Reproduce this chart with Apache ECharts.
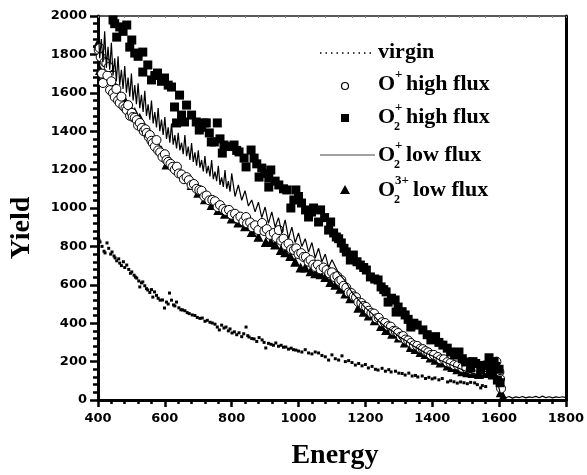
<!DOCTYPE html>
<html>
<head>
<meta charset="utf-8">
<script src="https://cdn.jsdelivr.net/npm/echarts@6/dist/echarts.min.js"></script>
<style>
  html, body { margin: 0; padding: 0; background: #fff; }
  #chart { width: 587px; height: 475px; }
</style>
</head>
<body>
<div id="chart"></div>
<script>
// energy / yield pairs
const virgin = [
  [400,840],[403,833],[406,823],[412,800],[418,775],[421,766],[427,818],[432,790],[438,760],[442,771],
  [448,750],[451,740],[456,725],[462,735],[465,713],[470,700],[476,720],[480,690],[486,703],[492,680],
  [497,660],[501,667],[508,650],[512,640],[516,635],[522,620],[525,589],[530,610],[534,615],[540,595],
  [545,580],[549,573],[555,560],[560,575],[564,536],[569,563],[575,545],[580,530],[586,520],[593,521],
  [599,479],[605,510],[610,500],[614,557],[620,520],[626,495],[630,490],[635,510],[642,480],[648,470],
  [653,469],[660,465],[667,455],[673,450],[682,443],[690,440],[697,430],[705,425],[712,427],[720,410],
  [727,415],[735,405],[742,401],[750,395],[757,380],[763,365],[770,390],[777,375],[783,380],[790,360],
  [795,370],[801,349],[808,355],[815,340],[822,350],[830,330],[836,345],[843,380],[848,335],[852,328],
  [860,320],[867,318],[875,305],[882,325],[891,313],[897,300],[902,271],[910,295],[918,290],[925,285],
  [932,297],[940,280],[948,285],[955,275],[962,276],[970,265],[978,270],[985,262],[992,260],[1000,255],
  [1010,250],[1020,262],[1030,245],[1040,240],[1050,250],[1060,245],[1070,232],[1080,225],[1090,208],[1100,235],
  [1110,215],[1120,208],[1130,230],[1140,200],[1150,205],[1160,195],[1170,182],[1180,190],[1190,178],[1200,185],
  [1209,167],[1220,175],[1230,160],[1238,156],[1250,165],[1260,150],[1270,158],[1277,146],[1290,150],[1300,140],
  [1310,138],[1319,130],[1330,140],[1340,125],[1350,128],[1357,120],[1370,125],[1380,112],[1390,118],[1400,110],
  [1408,115],[1420,105],[1430,112],[1446,94],[1455,100],[1465,95],[1475,88],[1485,94],[1495,90],[1505,85],
  [1515,92],[1527,89],[1535,80],[1545,63],[1550,75],[1560,70]
];

const oHigh = [
  [402,1823],[405,1833],[408,1786],[412,1700],[415,1651],[420,1760],[425,1755],[428,1690],[432,1734],[436,1614],
  [440,1660],[445,1599],[450,1578],[455,1620],[460,1560],[465,1547],[470,1580],[476,1530],[482,1520],[486,1510],
  [490,1536],[496,1480],[501,1495],[504,1474],[510,1470],[516,1458],[520,1430],[525,1443],[531,1417],[537,1400],
  [542,1410],[546,1391],[552,1370],[555,1380],[560,1350],[564,1338],[570,1320],[575,1354],[580,1300],[586,1290],
  [593,1266],[600,1280],[605,1250],[610,1240],[617,1230],[623,1214],[630,1200],[636,1215],[642,1180],[650,1175],
  [657,1150],[665,1161],[672,1145],[680,1120],[687,1125],[695,1100],[703,1094],[710,1090],[718,1060],[725,1065],
  [733,1040],[742,1042],[750,1035],[758,1005],[765,1015],[775,995],[783,985],[792,990],[800,965],[810,970],
  [818,945],[826,955],[835,930],[843,953],[846,920],[855,925],[862,900],[870,910],[880,885],[891,922],
  [898,880],[905,890],[915,860],[926,870],[934,845],[941,885],[948,830],[955,840],[962,805],[970,815],
  [978,785],[986,781],[993,790],[1000,760],[1008,765],[1015,745],[1022,745],[1030,720],[1036,729],[1044,705],
  [1051,693],[1058,705],[1066,680],[1075,690],[1084,677],[1092,660],[1100,665],[1108,640],[1116,645],[1122,620],
  [1128,625],[1135,595],[1143,585],[1150,560],[1158,557],[1165,540],[1172,535],[1179,510],[1188,505],[1195,490],
  [1202,485],[1210,465],[1218,453],[1226,450],[1233,425],[1240,428],[1250,405],[1259,401],[1268,385],[1276,382],
  [1284,360],[1291,358],[1298,349],[1306,330],[1313,333],[1320,315],[1328,310],[1336,297],[1345,285],[1355,282],
  [1365,268],[1372,265],[1380,255],[1388,248],[1396,235],[1405,235],[1417,224],[1425,212],[1435,212],[1445,197],
  [1455,193],[1466,182],[1477,180],[1490,168],[1502,166],[1515,158],[1527,156],[1540,165],[1555,160],[1568,175],
  [1580,190],[1586,182],[1592,200],[1601,146],[1603,110],[1606,60]
];

const o2High = [
  [445,1979],[450,1960],[456,1890],[465,1943],[475,1920],[486,1953],[495,1838],[501,1875],[510,1807],[520,1790],
  [534,1812],[534,1708],[549,1745],[560,1667],[570,1690],[578,1703],[590,1660],[599,1677],[610,1640],[620,1630],
  [629,1526],[635,1443],[644,1588],[650,1484],[659,1448],[665,1536],[680,1484],[694,1448],[703,1406],[710,1420],
  [718,1443],[724,1443],[733,1391],[739,1344],[748,1344],[757,1443],[765,1360],[772,1286],[777,1328],[790,1320],
  [807,1328],[815,1300],[822,1292],[837,1260],[843,1214],[858,1302],[867,1260],[875,1230],[882,1161],[890,1208],
  [900,1180],[911,1156],[911,1109],[917,1198],[930,1140],[941,1120],[955,1100],[965,1094],[977,1000],[986,1042],
  [992,1094],[1000,1060],[1009,1026],[1021,990],[1030,953],[1039,979],[1045,1000],[1060,927],[1066,990],[1078,950],
  [1090,885],[1096,927],[1105,870],[1113,849],[1120,840],[1128,818],[1136,790],[1143,771],[1155,729],[1164,755],
  [1175,720],[1185,703],[1195,690],[1203,677],[1215,641],[1228,630],[1238,625],[1247,589],[1255,575],[1262,563],
  [1268,510],[1278,530],[1289,521],[1292,458],[1298,484],[1310,460],[1319,443],[1328,420],[1336,380],[1345,400],
  [1355,390],[1372,365],[1385,340],[1396,313],[1410,330],[1420,300],[1432,286],[1445,270],[1455,250],[1467,234],
  [1480,250],[1490,215],[1500,198],[1515,167],[1522,200],[1530,190],[1545,156],[1555,180],[1565,182],[1570,220],
  [1575,160],[1580,130],[1585,200],[1590,175],[1595,104],[1600,160],[1603,90]
];

const o2Low = [
  [400,1979],[405,1780],[410,1880],[415,1760],[420,1920],[425,1730],[430,1840],[435,1720],[440,1860],[445,1690],
  [450,1780],[455,1660],[460,1790],[465,1640],[470,1720],[475,1620],[480,1740],[485,1600],[490,1680],[495,1580],
  [500,1700],[505,1560],[510,1640],[515,1540],[520,1650],[525,1520],[530,1590],[535,1500],[540,1610],[545,1480],
  [550,1540],[555,1460],[560,1560],[565,1440],[570,1500],[575,1420],[580,1520],[585,1400],[590,1460],[595,1380],
  [600,1474],[605,1360],[610,1420],[615,1340],[620,1440],[625,1330],[630,1380],[635,1310],[640,1391],[645,1300],
  [650,1340],[655,1280],[660,1380],[665,1270],[670,1320],[675,1250],[680,1338],[685,1240],[690,1290],[695,1220],
  [700,1300],[705,1210],[710,1250],[715,1190],[720,1270],[725,1180],[730,1220],[735,1165],[740,1250],[745,1150],
  [750,1190],[755,1140],[760,1220],[765,1120],[770,1160],[775,1110],[780,1198],[785,1100],[790,1140],[795,1085],
  [800,1180],[810,1060],[820,1120],[830,1040],[840,1090],[850,1010],[860,1042],[870,980],[880,1030],[890,950],
  [900,1005],[910,920],[920,980],[930,900],[940,950],[950,870],[960,938],[970,840],[980,900],[990,820],
  [1000,870],[1010,800],[1020,840],[1030,770],[1040,820],[1050,740],[1060,790],[1070,720],[1080,760],[1090,690],
  [1100,730],[1120,660],[1140,620],[1160,560],[1180,520],[1200,480],[1220,450],[1240,410],[1260,380],[1280,360],
  [1300,330],[1320,310],[1340,285],[1360,265],[1380,245],[1400,230],[1420,210],[1440,195],[1460,180],[1480,165],
  [1500,150],[1520,140],[1540,130],[1560,150],[1580,120],[1595,100],[1600,60],[1605,20],[1610,20],[1620,12],
  [1630,18],[1640,10],[1650,16],[1660,12],[1670,18],[1680,11],[1690,16],[1700,13],[1710,19],[1720,12],
  [1730,20],[1740,12],[1750,17],[1760,11],[1770,16],[1780,13],[1790,17],[1800,12]
];

const o23Low = [
  [400,1860],[406,1719],[418,1700],[436,1734],[450,1640],[462,1600],[478,1570],[494,1530],[510,1500],[525,1470],
  [540,1420],[558,1380],[575,1340],[590,1300],[605,1227],[620,1230],[640,1200],[660,1165],[680,1120],[700,1080],
  [720,1045],[740,1015],[760,990],[780,970],[800,945],[820,925],[840,905],[860,875],[880,850],[902,823],
  [917,823],[930,810],[947,781],[960,770],[975,750],[990,720],[1006,690],[1020,690],[1036,670],[1050,660],
  [1066,655],[1080,640],[1095,615],[1110,600],[1125,580],[1140,555],[1155,530],[1179,480],[1195,460],[1210,440],
  [1228,415],[1247,385],[1262,365],[1280,345],[1300,325],[1318,300],[1336,276],[1350,265],[1365,250],[1380,240],
  [1395,222],[1410,210],[1425,195],[1446,180],[1460,172],[1475,160],[1490,150],[1505,145],[1520,140],[1540,135],
  [1560,140],[1575,150],[1590,160],[1600,120],[1605,40],[1612,18]
];

const serif = '"Liberation Serif", "Times New Roman", serif';
const sans = '"DejaVu Sans", Arial, sans-serif';

// legend is drawn by hand so the sub/superscripts stack like the original
function legendText(x, y, sub, sup, rest) {
  const els = [{ type: 'text', x: x, y: y, style: { text: 'O', font: 'bold 22px ' + serif, fill: '#000', verticalAlign: 'middle' } }];
  let after = x + 17;
  if (sub) els.push({ type: 'text', x: x + 16, y: y + 10, style: { text: sub, font: 'bold 12px ' + serif, fill: '#000', verticalAlign: 'middle' } });
  if (sup) {
    els.push({ type: 'text', x: x + 17, y: y - 9, style: { text: sup, font: 'bold 13px ' + serif, fill: '#000', verticalAlign: 'middle' } });
    after = x + 17 + sup.length * 7;
  }
  els.push({ type: 'text', x: after + 4, y: y, style: { text: rest, font: 'bold 22px ' + serif, fill: '#000', verticalAlign: 'middle' } });
  return els;
}

const legendEls = [
  { type: 'line', shape: { x1: 320, y1: 53, x2: 375, y2: 53 }, style: { stroke: '#000', lineWidth: 1.5, lineDash: [1.5, 4] } },
  { type: 'text', x: 378, y: 52, style: { text: 'virgin', font: 'bold 22px ' + serif, fill: '#000', verticalAlign: 'middle' } },
  { type: 'circle', shape: { cx: 345, cy: 86, r: 3.5 }, style: { fill: '#fff', stroke: '#000', lineWidth: 1.2 } },
  ...legendText(378, 84, null, '+', 'high flux'),
  { type: 'rect', shape: { x: 341, y: 114, width: 8, height: 8 }, style: { fill: '#000' } },
  ...legendText(378, 117, '2', '+', 'high flux'),
  { type: 'line', shape: { x1: 320, y1: 155, x2: 375, y2: 155 }, style: { stroke: '#444', lineWidth: 1 } },
  ...legendText(378, 155, '2', '+', 'low flux'),
  { type: 'polygon', shape: { points: [[345, 185], [350, 194], [340, 194]] }, style: { fill: '#000' } },
  ...legendText(378, 190, '2', '3+', 'low flux'),
  { type: 'text', x: 335, y: 456, style: { text: 'Energy', font: 'bold 28px ' + serif, fill: '#000', align: 'center', verticalAlign: 'middle' } },
  { type: 'text', x: 22, y: 228, rotation: Math.PI / 2, style: { text: 'Yield', font: 'bold 28px ' + serif, fill: '#000', align: 'center', verticalAlign: 'middle' } }
];

const chart = echarts.init(document.getElementById('chart'), null, { renderer: 'canvas' });

const xBase = { type: 'value', min: 400, max: 1800, interval: 200 };
const yBase = { type: 'value', min: 0, max: 2000, interval: 200 };
const plain = (v) => String(v);

chart.setOption({
  animation: false,
  backgroundColor: '#fff',
  grid: { left: 98, right: 18, top: 16, bottom: 75 },
  xAxis: [
    {
      ...xBase,
      position: 'bottom',
      axisLine: { onZero: false, lineStyle: { color: '#000', width: 3 } },
      axisTick: { inside: false, length: 7, lineStyle: { color: '#000', width: 2.5 } },
      minorTick: { show: true, splitNumber: 5, length: 4, lineStyle: { color: '#000', width: 2.5 } },
      axisLabel: { margin: 12, color: '#000', fontFamily: sans, fontWeight: 'bold', fontSize: 13, formatter: plain },
      splitLine: { show: false }
    },
    {
      ...xBase,
      position: 'top',
      axisLine: { onZero: false, lineStyle: { color: '#222', width: 1.5 } },
      axisTick: { inside: true, length: 2, lineStyle: { color: '#888', width: 1 } },
      minorTick: { show: true, splitNumber: 5, length: 2, lineStyle: { color: '#888', width: 1 } },
      axisLabel: { show: false },
      splitLine: { show: false }
    }
  ],
  yAxis: [
    {
      ...yBase,
      position: 'left',
      axisLine: { onZero: false, lineStyle: { color: '#000', width: 3 } },
      axisTick: { inside: false, length: 8, lineStyle: { color: '#000', width: 2.5 } },
      minorTick: { show: true, splitNumber: 5, length: 5, lineStyle: { color: '#000', width: 2.5 } },
      axisLabel: { margin: 11, color: '#000', fontFamily: sans, fontWeight: 'bold', fontSize: 13, formatter: plain },
      splitLine: { show: false }
    },
    {
      ...yBase,
      position: 'right',
      axisLine: { show: true, onZero: false, lineStyle: { color: '#000', width: 3 } },
      axisTick: { show: false },
      axisLabel: { show: false },
      splitLine: { show: false }
    }
  ],
  graphic: legendEls,
  series: [
    {
      name: 'virgin', type: 'scatter', data: virgin,
      symbol: 'rect', symbolSize: 3,
      itemStyle: { color: '#000', opacity: 1 }
    },
    {
      name: 'O2+ low flux', type: 'line', data: o2Low,
      showSymbol: false, symbol: 'none',
      lineStyle: { color: '#000', width: 1.2 }
    },
    {
      name: 'O23+ low flux', type: 'scatter', data: o23Low,
      symbol: 'triangle', symbolSize: 10,
      itemStyle: { color: '#000', opacity: 1 }
    },
    {
      name: 'O+ high flux', type: 'scatter', data: oHigh,
      symbol: 'circle', symbolSize: 9,
      itemStyle: { color: '#fff', borderColor: '#000', borderWidth: 1, opacity: 1 }
    },
    {
      name: 'O2+ high flux', type: 'scatter', data: o2High,
      symbol: 'rect', symbolSize: 9,
      itemStyle: { color: '#000', opacity: 1 }
    }
  ]
});
</script>
</body>
</html>
